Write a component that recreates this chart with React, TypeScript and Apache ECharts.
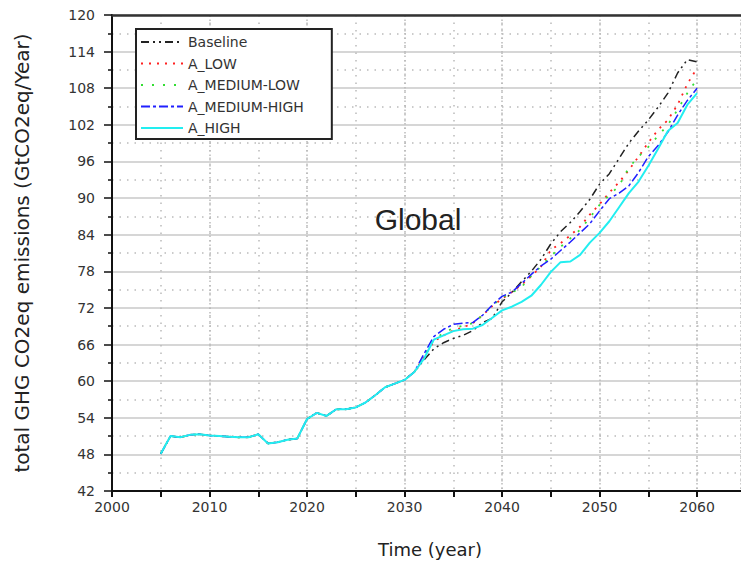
import React, { useEffect, useRef } from "react";
import * as echarts from "echarts";

const years = [
  2005, 2006, 2007, 2008, 2009, 2010, 2011, 2012, 2013, 2014,
  2015, 2016, 2017, 2018, 2019, 2020, 2021, 2022, 2023, 2024,
  2025, 2026, 2027, 2028, 2029, 2030, 2031, 2032, 2033, 2034,
  2035, 2036, 2037, 2038, 2039, 2040, 2041, 2042, 2043, 2044,
  2045, 2046, 2047, 2048, 2049, 2050, 2051, 2052, 2053, 2054,
  2055, 2056, 2057, 2058, 2059, 2060,
];

// Shared history 2005-2031
const history = [
  48.1, 51.0, 50.8, 51.2, 51.3, 51.1, 51.0, 50.9, 50.8, 50.8,
  51.3, 49.8, 50.0, 50.4, 50.6, 53.8, 54.8, 54.3, 55.4, 55.4,
  55.7, 56.5, 57.7, 59.0, 59.6, 60.2, 61.5,
];

// Scenario projections 2032-2060
const baseline = [
  63.5, 65.3, 66.3, 67.0, 67.5, 68.3, 69.6, 70.3, 73.0, 74.5,
  76.3, 78.0, 80.0, 82.5, 84.5, 86.0, 87.8, 89.8, 92.3, 94.0,
  96.5, 99.0, 101.0, 102.8, 104.9, 107.2, 110.5, 112.7, 112.3,
];
const aLow = [
  64.0, 66.5, 67.5, 68.3, 68.8, 69.5, 70.8, 72.3, 73.5, 74.6,
  75.8, 77.2, 78.8, 81.5, 82.6, 83.9, 85.3, 87.3, 89.0, 90.9,
  92.6, 94.6, 96.8, 99.1, 101.2, 102.8, 105.3, 108.7, 111.3,
];
const aMediumLow = [
  64.2, 66.8, 67.9, 68.7, 69.1, 69.5, 70.8, 72.4, 73.7, 74.5,
  75.4, 77.3, 78.8, 80.5, 82.0, 83.4, 84.8, 86.8, 88.9, 90.5,
  92.0, 95.0, 96.8, 98.4, 100.2, 102.0, 104.5, 107.2, 109.5,
];
const aMediumHigh = [
  64.5, 67.3, 68.5, 69.3, 69.5, 69.6, 70.8, 72.5, 73.9, 74.6,
  76.0, 77.5, 78.9, 80.0, 81.4, 82.8, 84.3, 85.8, 87.9, 89.9,
  90.8, 92.0, 94.2, 96.8, 98.6, 100.8, 103.6, 106.0, 108.0,
];
const aHigh = [
  63.7, 66.8, 67.5, 68.2, 68.5, 68.6, 69.2, 70.4, 71.6, 72.2,
  73.0, 74.0, 75.8, 77.9, 79.5, 79.6, 80.7, 82.7, 84.3, 86.2,
  88.5, 90.8, 92.7, 95.3, 98.1, 101.0, 102.3, 105.3, 107.2,
];

const seriesNames = ["Baseline", "A_LOW", "A_MEDIUM-LOW", "A_MEDIUM-HIGH", "A_HIGH"];
const projections = [baseline, aLow, aMediumLow, aMediumHigh, aHigh];
const colors = ["#222222", "#ff2020", "#33dd33", "#2020ff", "#22eef0"];
const dashes: (number[] | "solid")[] = [
  [8, 4, 2, 4, 2, 4],
  [2, 6],
  [2, 9],
  [9, 3, 3, 3],
  "solid",
];
const widths = [1.5, 1.8, 1.8, 1.5, 2];

const yTitle = "total GHG CO2eq emissions (GtCO2eq/Year)";
const xTitle = "Time (year)";
const regionLabel = "Global";

const FONT = "DejaVu Sans";

export default function App() {
  const ref = useRef<HTMLDivElement>(null);
  useEffect(() => {
    if (!ref.current) return;
    const chart = echarts.init(ref.current, undefined, { renderer: "svg" });
    const series = seriesNames.map((name, i) => {
      const vals = history.concat(projections[i]);
      return {
        name,
        type: "line",
        xAxisIndex: 0,
        yAxisIndex: 0,
        symbol: "none",
        showSymbol: false,
        data: years.map((y, k) => [y, vals[k]]),
        lineStyle: { color: colors[i], width: widths[i], type: dashes[i] },
        itemStyle: { color: colors[i] },
        z: 2 + i,
      };
    });
    chart.setOption({
      animation: false,
      backgroundColor: "#ffffff",
      grid: { left: 112, top: 15, right: 0, bottom: 72, containLabel: false },
      legend: {
        orient: "vertical",
        left: 136,
        top: 29,
        itemWidth: 42,
        itemHeight: 14,
        itemGap: 7.5,
        padding: [6, 28, 4, 4],
        borderColor: "#222",
        borderWidth: 2,
        backgroundColor: "#ffffff",
        itemStyle: { opacity: 0 },
        textStyle: { fontFamily: FONT, fontSize: 14, color: "#333" },
        data: seriesNames,
        z: 20,
      },
      xAxis: [
        {
          type: "value",
          position: "bottom",
          min: 2000,
          max: 2064.5,
          interval: 5,
          axisLine: { show: true, lineStyle: { color: "#111", width: 2 } },
          axisTick: { show: true, length: 6, lineStyle: { color: "#111", width: 2 } },
          axisLabel: {
            margin: 9,
            fontFamily: FONT,
            fontSize: 14,
            color: "#333",
            formatter: (v: number) => (v % 10 === 0 ? String(v) : ""),
            showMaxLabel: false,
          },
          splitLine: { show: true, lineStyle: { color: "#bbb", width: 1.5, type: [1.5, 6] } },
        },
        {
          type: "value",
          position: "top",
          min: 2000,
          max: 2064.5,
          interval: 10,
          axisLine: { show: true, lineStyle: { color: "#333", width: 2.5 } },
          axisTick: { show: false },
          axisLabel: { show: false },
          splitLine: { show: true, lineStyle: { color: "#bbb", width: 1.5, type: [1.5, 3] } },
        },
      ],
      yAxis: {
        type: "value",
        min: 42,
        max: 120,
        interval: 6,
        axisLine: { show: true, lineStyle: { color: "#111", width: 2 } },
        axisTick: { show: true, length: 8, lineStyle: { color: "#111", width: 1.5 } },
        minorTick: { show: true, splitNumber: 2, length: 4, lineStyle: { color: "#111", width: 1.5 } },
        axisLabel: { margin: 17, fontFamily: FONT, fontSize: 14, color: "#333" },
        splitLine: { show: true, lineStyle: { color: "#c8c8c8", width: 1.5 } },
        minorSplitLine: { show: true, lineStyle: { color: "#bbb", width: 1.5, type: [1.5, 6] } },
      },
      graphic: [
        {
          type: "text",
          x: 418,
          y: 219,
          style: {
            text: regionLabel,
            font: "30px 'Liberation Sans'",
            fill: "#222",
            textAlign: "center",
            textVerticalAlign: "middle",
          },
          z: 10,
        },
        {
          type: "text",
          x: 22,
          y: 253,
          rotation: Math.PI / 2,
          style: {
            text: yTitle,
            font: `20px '${FONT}'`,
            fill: "#222",
            textAlign: "center",
            textVerticalAlign: "middle",
          },
        },
        {
          type: "text",
          x: 430,
          y: 549,
          style: {
            text: xTitle,
            font: `18px '${FONT}'`,
            fill: "#222",
            textAlign: "center",
            textVerticalAlign: "middle",
          },
        },
      ],
      series,
    });
    return () => chart.dispose();
  }, []);
  return (
    <div
      ref={ref}
      style={{ position: "fixed", left: 0, top: 0, width: 741, height: 563 }}
    />
  );
}
